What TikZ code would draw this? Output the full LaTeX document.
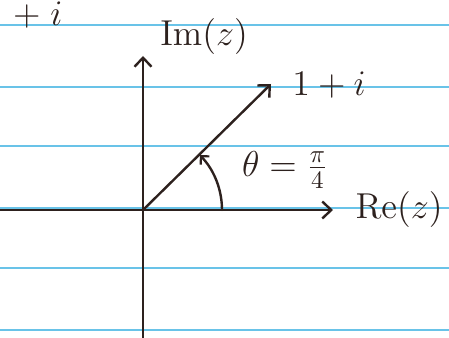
\documentclass[tikz,border=0pt]{standalone}
\usepackage{xcolor}
\usepackage{tikz}
\usetikzlibrary{arrows.meta, positioning}
\usepackage{amsmath}
\definecolor{InkBrown}{RGB}{45,33,30}
\definecolor{RuleBlue}{RGB}{105,195,232}

\begin{document}
\begin{tikzpicture}[x=1pt, y=1pt,
            rule/.style={RuleBlue, line width=1.5pt},
            ink/.style={InkBrown, line width=2.4pt, line cap=round},
            arr/.style={ink, -{Straight Barb[length=9pt, width=17pt, line width=2.4pt]}},
            lbl/.style={InkBrown, inner sep=0pt, font=\Large, scale=2.5, transform shape}
          ]
          \useasboundingbox (0,0) rectangle (449,337);
          \clip (0,0) rectangle (449,337);
          % ruled paper
          \foreach \y in {312, 250, 191, 129, 69, 7} {
            \draw[rule] (0,\y) -- (449,\y);
          }

          % axes
          \coordinate (O) at (143,127);
          \coordinate (xL) at (0,127);
          \coordinate (xR) at (333,127);
          \coordinate (yB) at (143,-2);
          \coordinate (yT) at (143,281);
          \coordinate (P) at (271,253);
          \coordinate (A0) at (222,127);
          \draw[arr] (xL) -- (xR);
          \draw[arr] (yB) -- (yT);
          \draw[arr] (O) -- (P);

          % angle
          \draw[ink, -{Straight Barb[length=6pt, width=12pt, line width=2.2pt]}]
                (A0) arc[start angle=0, end angle=44, radius=79];

          % labels
          \node[lbl] (im) at (204,300) {$\mathrm{Im}(z)$};
          \node[lbl] (pt) at (329,252) {$1+i$};
          \node[lbl] (th) at (285,167) {$\theta=\frac{\pi}{4}$};
          \node[lbl, anchor=west] (re) at (355,127) {$\mathrm{Re}(z)$};
          \node[lbl, anchor=east] (top) at (63,322) {$+\;i$};
        \end{tikzpicture}
\end{document}
